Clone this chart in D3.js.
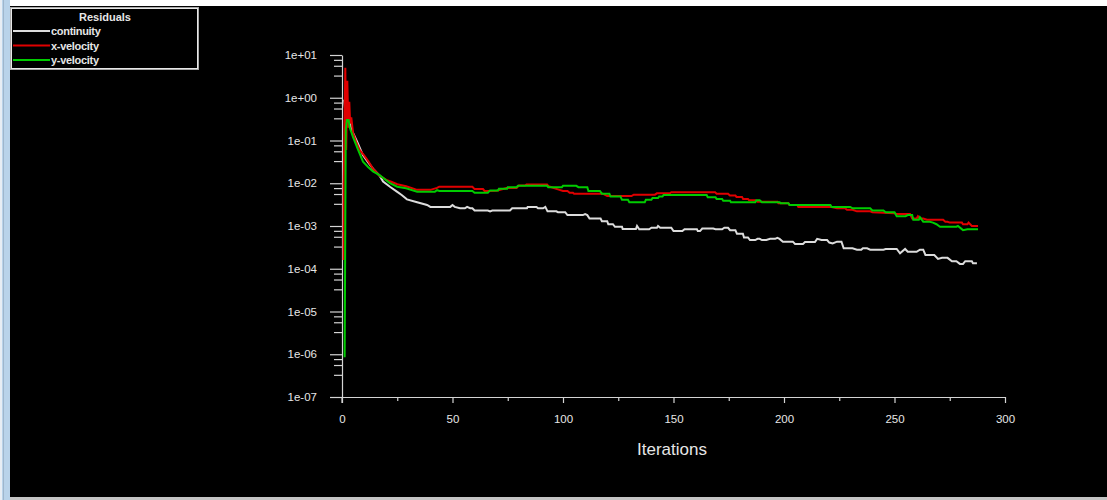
<!DOCTYPE html>
<html><head><meta charset="utf-8">
<script src="https://cdn.jsdelivr.net/npm/d3@7"></script>
<style>html,body{margin:0;padding:0;background:#000;overflow:hidden}</style>
</head><body>
<svg id="chart" width="1107" height="500"></svg>
<script>
// ---------- data (iteration, residual) ----------
const seriesNames = ["continuity", "x-velocity", "y-velocity"];
const seriesColors = ["#dcdcdc", "#e00000", "#00cc00"];

const continuity = [[1,0.9],[1.6,0.4],[2.1,0.8],[2.6,0.3],[3.2,0.35],[4,0.2],[5,0.15],[7,0.09],[9.5,0.045],[12,0.03],[14,0.022],[17,0.015],[18.6,0.011],[21.7,0.0083],[25,0.0063],[27,0.0053],[29.4,0.0042],[34,0.0036],[38.5,0.0031],[40,0.0028],[49,0.0028],[50,0.0031],[51,0.0028],[53.4,0.0026],[55.6,0.0026],[56.6,0.0028],[58,0.0026],[59,0.0026],[60,0.0023],[66,0.0023],[67,0.0022],[68,0.0023],[76,0.0023],[77,0.0026],[83.7,0.0026],[84,0.0028],[88,0.0028],[88.7,0.0026],[91,0.0026],[92,0.0028],[93,0.0022],[97,0.0022],[97.7,0.0021],[101,0.0021],[102,0.0018],[109,0.0018],[110,0.0019],[111,0.0018],[112,0.0015],[117,0.0015],[117.6,0.0013],[120,0.0013],[120.5,0.0011],[122.6,0.0011],[123.5,0.00096],[126.7,0.00096],[127,0.00085],[133,0.00085],[133.5,0.001],[134.5,0.00084],[139,0.00084],[140,0.00091],[142.5,0.00091],[143,0.001],[144,0.00091],[149,0.00091],[150,0.00076],[154,0.00076],[155,0.00084],[160.6,0.00084],[161,0.00076],[162,0.00076],[163,0.00087],[168,0.00087],[169,0.00084],[172,0.00084],[173,0.00091],[174.7,0.00091],[175.6,0.0008],[178,0.0008],[178.7,0.00066],[181.4,0.00066],[181.9,0.00054],[183.7,0.00054],[184.6,0.00047],[187,0.00047],[188,0.0005],[189,0.0005],[190,0.00047],[192,0.00047],[193.7,0.0005],[196,0.0005],[197,0.00053],[198,0.0005],[199.5,0.00043],[204,0.00043],[205,0.00038],[208.6,0.00038],[209.5,0.00042],[214,0.00042],[215,0.0005],[217,0.00047],[219.5,0.00047],[220.5,0.00041],[222,0.00039],[224,0.00043],[226,0.00043],[227,0.0003],[231,0.0003],[233,0.00028],[235,0.00028],[235.7,0.0003],[237.6,0.0003],[239,0.00028],[245,0.00028],[246,0.00029],[251,0.00029],[252.5,0.00023],[254.8,0.00029],[256,0.00025],[260,0.00025],[261.5,0.00028],[263,0.00028],[264,0.00021],[268,0.00021],[269.7,0.00017],[271.5,0.00018],[274,0.00018],[276,0.00015],[278,0.00015],[279.6,0.00013],[281,0.00013],[282,0.00015],[285,0.00015],[285.5,0.000135],[287.3,0.000135]];

const xVelocity = [[0.7,1.6e-4],[0.75,0.01],[1.5,5.0],[1.9,0.06],[2.4,2.5],[2.9,0.2],[3.3,0.8],[3.7,0.25],[4.2,0.35],[5,0.15],[6.5,0.09],[8,0.06],[10,0.045],[12,0.032],[14,0.022],[17,0.015],[20,0.012],[22,0.011],[25,0.0095],[29,0.0085],[32,0.0076],[34,0.007],[40,0.007],[43,0.0078],[44,0.0083],[59,0.0083],[60,0.0073],[63.8,0.0073],[64.5,0.0066],[66,0.0066],[70,0.0067],[74.5,0.0077],[79,0.0077],[80,0.0088],[82.8,0.0088],[83.5,0.0094],[92.8,0.0094],[93.5,0.0085],[97.7,0.0072],[100,0.0066],[102,0.0066],[103,0.006],[104.5,0.006],[105,0.0057],[118,0.0057],[120,0.005],[131,0.005],[132,0.0054],[141.6,0.0054],[142.5,0.0058],[148.4,0.0058],[149,0.0062],[168.8,0.0062],[169.5,0.0057],[174.7,0.0057],[175.5,0.0052],[178,0.0052],[178.5,0.0048],[181,0.0048],[181.5,0.0043],[183.7,0.0043],[184.2,0.004],[187,0.004],[188,0.0037],[197,0.0037],[197.5,0.0034],[202,0.0034],[202.5,0.0031],[206,0.0031],[206.5,0.0028],[221,0.0028],[224,0.0026],[227.6,0.0026],[228.5,0.0024],[231,0.0024],[233,0.0022],[239,0.0022],[240,0.0021],[250,0.002],[251,0.0019],[257,0.0019],[258,0.0015],[260,0.0015],[260.6,0.0017],[261.5,0.0015],[263,0.0015],[264.7,0.0014],[272,0.0014],[273,0.00126],[274,0.00126],[275,0.0012],[280.5,0.0012],[281,0.0011],[283,0.0011],[283.5,0.0012],[285,0.001],[287.8,0.001]];

const yVelocity = [[1.2,8.5e-7],[1.7,0.18],[2.2,0.3],[3,0.3],[3.5,0.2],[5,0.12],[7.3,0.06],[9.5,0.032],[11.8,0.024],[14,0.019],[17,0.0155],[21.7,0.01],[25,0.0083],[29,0.0076],[34,0.0063],[42,0.0063],[43,0.0069],[44,0.0066],[59,0.0066],[60,0.006],[66,0.006],[67,0.0068],[70.6,0.0068],[71,0.0074],[74.7,0.0074],[75,0.0081],[79,0.0081],[79.6,0.0087],[92.8,0.0087],[93.3,0.0081],[99.5,0.0081],[100,0.0087],[106,0.0087],[107,0.0081],[111,0.0081],[111.5,0.0066],[116.7,0.0066],[117.6,0.0057],[121,0.0057],[121.5,0.0049],[126,0.0049],[126.7,0.0041],[129.4,0.0041],[130,0.0036],[137,0.0036],[137.5,0.0041],[140,0.0041],[140.5,0.0045],[143,0.0045],[143.5,0.0049],[145,0.0049],[145.5,0.0053],[165,0.0053],[165.5,0.0047],[169,0.0047],[169.5,0.0043],[172,0.0043],[172.5,0.0039],[175.6,0.0039],[176,0.0036],[187,0.0036],[187.5,0.004],[189,0.004],[190,0.0036],[198,0.0036],[198.5,0.0034],[202,0.0034],[202.5,0.0031],[221,0.0031],[221.5,0.0028],[230,0.0028],[231,0.0026],[239,0.0026],[240,0.0023],[245,0.0023],[246,0.0021],[250,0.0021],[251,0.0017],[255,0.0017],[256,0.0018],[258,0.0018],[258.5,0.0014],[261,0.0014],[261.5,0.0016],[263,0.00126],[266,0.00126],[267.4,0.0012],[269,0.0011],[270.6,0.00096],[278,0.00096],[278.7,0.001],[281,0.0008],[283,0.00084],[287.8,0.00084]];

const xTicks = [0, 50, 100, 150, 200, 250, 300];
const xMinorTicks = [25, 75, 125, 175, 225, 275];
const yTicks = [1e-7, 1e-6, 1e-5, 1e-4, 1e-3, 1e-2, 1e-1, 1, 10];
const yTickLabels = ["1e-07","1e-06","1e-05","1e-04","1e-03","1e-02","1e-01","1e+00","1e+01"];
const yMinorMultipliers = [3.3, 5.6, 7.7];
const legendTitle = "Residuals";
const xAxisTitle = "Iterations";

// ---------- drawing ----------
const svg = d3.select("#chart");
const W = 1107, H = 500;
const axisColor = "#d4d4d4";
const font = "'Liberation Sans', Arial, sans-serif";

// window frame
svg.append("rect").attr("x",0).attr("y",0).attr("width",W).attr("height",H).attr("fill","#000");
svg.append("rect").attr("x",0).attr("y",0).attr("width",W).attr("height",6).attr("fill","#fff");
svg.append("rect").attr("x",0).attr("y",0).attr("width",10).attr("height",H).attr("fill","#b9d3ea");
svg.append("rect").attr("x",0).attr("y",0).attr("width",2).attr("height",H).attr("fill","#e8eef5");
svg.append("rect").attr("x",3).attr("y",0).attr("width",1).attr("height",H).attr("fill","#9fb6cc");
svg.append("rect").attr("x",10).attr("y",497).attr("width",W-10).attr("height",3).attr("fill","#c4c4c4");

const x = d3.scaleLinear().domain([0, 300]).range([342, 1005]);
const y = d3.scaleLog().domain([1e-7, 10]).range([397, 55]);

// y axis
const yMinor = [];
yTicks.slice(0, -1).forEach(t => yMinorMultipliers.forEach(m => yMinor.push(t * m)));
const gy = svg.append("g").attr("transform", `translate(${x(0)},0)`);
gy.call(d3.axisLeft(y).tickValues(yTicks).tickSize(12).tickSizeOuter(0).tickPadding(13)
  .tickFormat((d, i) => yTickLabels[i]));
const gyMinor = svg.append("g").attr("transform", `translate(${x(0)},0)`);
gyMinor.call(d3.axisLeft(y).tickValues(yMinor).tickSize(8).tickSizeOuter(0).tickFormat(""));
gyMinor.select(".domain").remove();

// x axis
const gx = svg.append("g").attr("transform", `translate(0,${y(1e-7)})`);
gx.call(d3.axisBottom(x).tickValues(xTicks).tickSize(6).tickSizeOuter(0).tickFormat(d3.format("d")));
const gxMinor = svg.append("g").attr("transform", `translate(0,${y(1e-7)})`);
gxMinor.call(d3.axisBottom(x).tickValues(xMinorTicks).tickSize(4).tickSizeOuter(0).tickFormat(""));
gxMinor.select(".domain").remove();
gx.selectAll("text").attr("dy", null).attr("y", 26);

[gy, gyMinor, gx, gxMinor].forEach(g => {
  g.selectAll("path,line").attr("stroke", axisColor).attr("stroke-width", 1.2);
  g.selectAll("text").attr("fill", "#e6e6e6").style("font-family", font).style("font-size", "11.5px");
});
// y axis extends slightly below the x axis
svg.append("line").attr("x1", x(0)).attr("x2", x(0)).attr("y1", y(1e-7)).attr("y2", y(1e-7) + 6)
  .attr("stroke", axisColor).attr("stroke-width", 1.2);

// axis title
svg.append("text").attr("x", 672).attr("y", 455).attr("text-anchor", "middle")
  .attr("fill", "#e6e6e6").style("font-family", font).style("font-size", "17px").text(xAxisTitle);

// lines
const line = d3.line().x(d => x(d[0])).y(d => y(d[1]));
const allSeries = [continuity, xVelocity, yVelocity];
svg.append("g").selectAll("path").data(allSeries).join("path")
  .attr("d", line).attr("fill", "none")
  .attr("stroke", (d, i) => seriesColors[i]).attr("stroke-width", 2)
  .attr("stroke-linejoin", "miter");

// legend
const lg = svg.append("g");
lg.append("rect").attr("x", 10.5).attr("y", 7.5).attr("width", 188).attr("height", 62)
  .attr("fill", "#000").attr("stroke", "#a8a8a8").attr("stroke-width", 1);
lg.append("rect").attr("x", 11.5).attr("y", 8.5).attr("width", 186).attr("height", 60)
  .attr("fill", "none").attr("stroke", "#e8e8e8").attr("stroke-width", 1);
lg.append("text").attr("x", 105).attr("y", 21).attr("text-anchor", "middle")
  .attr("fill", "#e6e6e6").style("font-family", font).style("font-size", "11px")
  .style("font-weight", "bold").text(legendTitle);
const legendY = [31, 45.5, 60];
seriesNames.forEach((name, i) => {
  lg.append("line").attr("x1", 13).attr("x2", 50).attr("y1", legendY[i]).attr("y2", legendY[i])
    .attr("stroke", seriesColors[i]).attr("stroke-width", 2);
  lg.append("text").attr("x", 51).attr("y", legendY[i] + 4)
    .attr("fill", "#e6e6e6").style("font-family", font).style("font-size", "11px")
    .style("font-weight", "bold").style("letter-spacing", "-0.3px").text(name);
});
</script>
</body></html>
